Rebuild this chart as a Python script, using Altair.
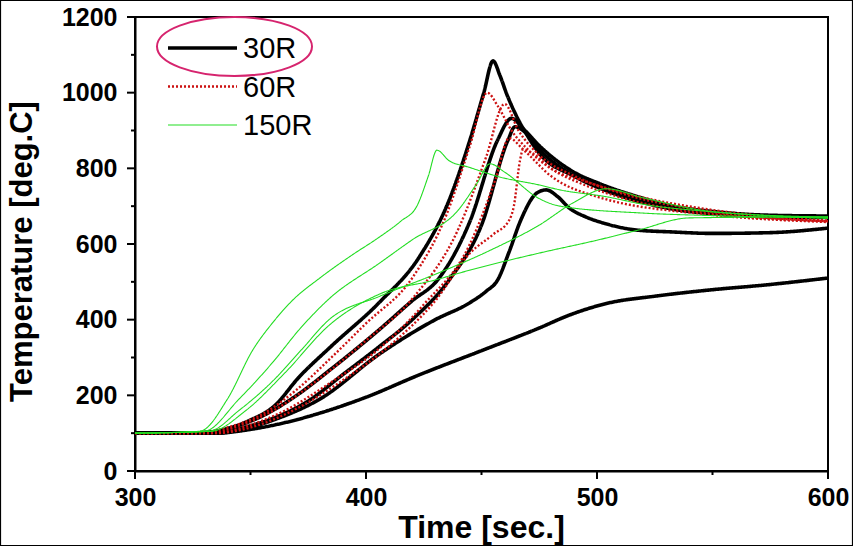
import altair as alt
import pandas as pd

# ---- data (Time [sec.], Temperature [deg.C]) ----
SERIES = ["30R", "60R", "150R"]
COLORS = ["#000000", "#cc1111", "#22dd22"]
X_TICKS = [300, 350, 400, 450, 500, 550, 600]
Y_TICKS = [0, 100, 200, 300, 400, 500, 600, 700, 800, 900, 1000, 1100, 1200]

# 30R runs (thick black)
B1_X = [300, 320, 330, 340, 350, 360, 371, 385, 406, 423, 436, 445, 451, 455, 458, 461, 465, 470, 475, 490, 501, 515, 533, 550, 575, 600]
B1_Y = [100, 100, 102, 112, 135, 170, 248, 330, 447, 565, 716, 875, 1000, 1084, 1045, 995, 940, 885, 840, 780, 751, 722, 695, 682, 674, 672]
B2_X = [300, 330, 342, 355, 370, 385, 406, 420, 431, 445, 457, 463, 468, 475, 490, 501, 515, 533, 550, 575, 600]
B2_Y = [100, 100, 115, 145, 200, 270, 375, 450, 505, 660, 875, 932, 905, 860, 790, 760, 730, 700, 686, 676, 674]
B3_X = [300, 335, 345, 360, 375, 390, 406, 420, 436, 450, 461.5, 464.5, 468, 475, 490, 501, 515, 533, 550, 575, 600]
B3_Y = [100, 100, 112, 140, 185, 255, 330, 400, 505, 650, 875, 910, 900, 850, 780, 748, 718, 692, 680, 672, 670]
B4_X = [300, 335, 345, 360, 380, 406, 430, 445, 452, 457, 462, 467, 474, 478, 483, 488, 495, 503, 517, 532, 550, 575, 600]
B4_Y = [100, 100, 108, 135, 190, 310, 400, 445, 475, 505, 580, 663, 735, 743, 725, 695, 672, 655, 637, 632, 628, 630, 642]
B5_X = [300, 335, 350, 365, 380, 400, 423, 450, 475, 488, 505, 525, 548, 575, 600]
B5_Y = [100, 100, 110, 128, 153, 195, 254, 318, 378, 412, 444, 462, 478, 493, 510]

# 60R runs (thin red dotted)
R1_X = [300, 328, 340, 355, 370, 385, 400, 420, 435, 445, 452.5, 457, 463, 470, 480, 495, 515, 550, 600]
R1_Y = [100, 100, 115, 150, 215, 300, 390, 510, 680, 860, 1000, 965, 900, 850, 800, 765, 730, 690, 662]
R2_X = [300, 332, 345, 360, 380, 400, 420, 440, 452, 460, 466, 475, 490, 510, 550, 600]
R2_Y = [100, 100, 120, 160, 245, 345, 455, 640, 830, 970, 900, 835, 780, 735, 685, 660]
R3_X = [300, 335, 348, 365, 385, 405, 425, 445, 456, 462, 468, 480, 500, 550, 600]
R3_Y = [100, 100, 118, 160, 235, 320, 440, 600, 770, 880, 850, 780, 725, 677, 658]
R4_X = [300, 335, 350, 370, 390, 410, 430, 445, 455, 462, 464, 466.7, 468, 472, 480, 495, 515, 550, 600]
R4_Y = [100, 100, 115, 165, 240, 330, 450, 576, 625, 663, 700, 822, 850, 840, 800, 755, 715, 680, 660]

# 150R runs (thin green)
G1_X = [300, 328, 340, 351, 360, 368, 380, 394, 405, 415, 422, 427, 430.7, 436, 444, 458, 475, 484, 504, 520, 550, 600]
G1_Y = [100, 105, 190, 320, 395, 450, 510, 571, 615, 660, 700, 780, 848, 820, 804, 777, 756, 743, 725, 705, 685, 668]
G2_X = [300, 330, 345, 360, 371, 384, 406, 420, 440, 448, 453.7, 460, 475, 484, 519, 550, 600]
G2_Y = [100, 105, 190, 290, 373, 455, 550, 611, 690, 760, 812, 790, 720, 700, 682, 675, 669]
G3_X = [300, 332, 345, 360, 372, 384, 406, 430, 454, 475, 490, 504, 520, 551, 600]
G3_Y = [100, 105, 160, 240, 320, 400, 462, 520, 584, 650, 710, 746, 722, 685, 671]
G4_X = [300, 333, 348, 365, 384, 406, 430, 445, 475, 500, 518, 540, 600]
G4_Y = [100, 105, 160, 260, 385, 468, 505, 531, 576, 610, 637, 669, 672]

RUNS = [
    ("30R", "B1", B1_X, B1_Y), ("30R", "B2", B2_X, B2_Y), ("30R", "B3", B3_X, B3_Y),
    ("30R", "B4", B4_X, B4_Y), ("30R", "B5", B5_X, B5_Y),
    ("60R", "R1", R1_X, R1_Y), ("60R", "R2", R2_X, R2_Y), ("60R", "R3", R3_X, R3_Y),
    ("60R", "R4", R4_X, R4_Y),
    ("150R", "G1", G1_X, G1_Y), ("150R", "G2", G2_X, G2_Y), ("150R", "G3", G3_X, G3_Y),
    ("150R", "G4", G4_X, G4_Y),
]

rows = []
for series, run, xs, ys in RUNS:
    for i, (x, y) in enumerate(zip(xs, ys)):
        rows.append({"series": series, "run": run, "t": x, "temp": y, "i": i})
df = pd.DataFrame(rows)
leg = pd.DataFrame({"series": SERIES, "k": list(range(len(SERIES)))})
xt = pd.DataFrame({"t": X_TICKS})
yt = pd.DataFrame({"temp": Y_TICKS})

FONT = "Liberation Sans"
x_scale = alt.Scale(domain=[300, 600], nice=False, zero=False)
y_scale = alt.Scale(domain=[0, 1200], nice=False)
color_scale = alt.Scale(domain=SERIES, range=COLORS)
dash_scale = alt.Scale(domain=SERIES, range=[[1, 0], [2, 2], [1, 0]])
width_scale = alt.Scale(domain=SERIES, range=[3.6, 1.1, 1.3])

lines = alt.Chart(df).mark_line(interpolate="monotone", clip=True).encode(
    x=alt.X("t:Q", scale=x_scale,
            axis=alt.Axis(values=[300, 400, 500, 600], title="Time [sec.]", format="d",
                          ticks=False, labelFlush=False, labelPadding=14, titleX=346, titleY=66,
                          titleBaseline="alphabetic", titleAlign="center",
                          titleFontSize=32)),
    y=alt.Y("temp:Q", scale=y_scale,
            axis=alt.Axis(values=list(range(0, 1201, 200)), title="Temperature [deg.C]", format="d",
                          ticks=False, labelFlush=False,
                          labelPadding=18, titleX=-113, titleY=234, titleAngle=270,
                          titleAlign="center", titleBaseline="middle",
                          titleFontSize=31)),
    color=alt.Color("series:N", scale=color_scale, legend=None),
    strokeDash=alt.StrokeDash("series:N", scale=dash_scale, legend=None),
    strokeWidth=alt.StrokeWidth("series:N", scale=width_scale, legend=None),
    detail="run:N",
    order="i:Q",
)

# axis ticks (major 8 px, minor 4 px), drawn outward
x_ticks = alt.Chart(xt).transform_calculate(
    p1="454", p2="454 + (datum.t % 100 === 0 ? 8 : 4)"
).mark_rule(color="black", strokeWidth=2, clip=False).encode(
    x=alt.X("t:Q", scale=x_scale),
    y=alt.Y("p1:Q", scale=None),
    y2="p2:Q",
)
y_ticks = alt.Chart(yt).transform_calculate(
    p1="0", p2="-(datum.temp % 200 === 0 ? 8 : 4)"
).mark_rule(color="black", strokeWidth=2, clip=False).encode(
    y=alt.Y("temp:Q", scale=y_scale),
    x=alt.X("p1:Q", scale=None),
    x2="p2:Q",
)

# legend (built from the series list)
leg_base = alt.Chart(leg).transform_calculate(py="31 + datum.k * 38.5")
leg_lines = leg_base.mark_rule().encode(
    x=alt.value(33), x2=alt.value(102),
    y=alt.Y("py:Q", scale=None),
    color=alt.Color("series:N", scale=color_scale, legend=None),
    strokeDash=alt.StrokeDash("series:N", scale=dash_scale, legend=None),
    strokeWidth=alt.StrokeWidth("series:N", scale=width_scale, legend=None),
)
leg_text = leg_base.mark_text(align="left", baseline="middle", fontSize=29, font=FONT,
                              color="black", dy=1).encode(
    x=alt.value(108),
    y=alt.Y("py:Q", scale=None),
    text="series:N",
)

ellipse = alt.Chart(alt.Data(values=[{}])).mark_point(
    shape="M -1 0 A 1 0.38 0 1 0 1 0 A 1 0.38 0 1 0 -1 0",
    filled=False, stroke="#d6246e", strokeWidth=2, size=155 * 155, opacity=1,
).encode(x=alt.value(99.5), y=alt.value(29.5))

frame = alt.Chart(alt.Data(values=[{}])).mark_rect(
    filled=False, stroke="black", strokeWidth=1.2, clip=False,
).encode(x=alt.value(-134.5), x2=alt.value(717.5), y=alt.value(-16.5), y2=alt.value(528.5))

chart = alt.layer(lines, x_ticks, y_ticks, leg_lines, leg_text, ellipse, frame).properties(
    width=693, height=454,
    autosize=alt.AutoSizeParams(type="none"),
    padding={"left": 135, "top": 17, "right": 25, "bottom": 75},
    background="white",
).configure_view(
    stroke="black", strokeWidth=2,
).configure_axis(
    domainColor="black", domainWidth=2, grid=False,
    labelFont=FONT, labelFontWeight="bold", labelFontSize=25, labelColor="black",
    titleFont=FONT, titleFontWeight="bold", titleColor="black",
)

chart.save("out.html", embed_options={"renderer": "svg", "actions": False})
